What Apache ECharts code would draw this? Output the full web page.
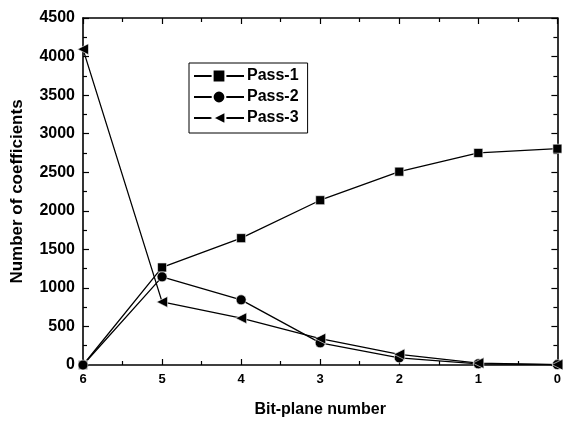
<!DOCTYPE html>
<html>
<head>
<meta charset="utf-8">
<script src="https://cdn.jsdelivr.net/npm/echarts@6/dist/echarts.min.js"></script>
<style>html,body{margin:0;padding:0;background:#fff}#c{width:564px;height:423px}</style>
</head>
<body>
<div id="c"></div>
<script>
var bitPlanes = [6, 5, 4, 3, 2, 1, 0];
var pass1 = [0, 1265, 1645, 2137, 2507, 2750, 2805];
var pass2 = [0, 1143, 845, 287, 93, 15, 5];
var pass3 = [4096, 818, 607, 342, 138, 25, 5];
var xTicks = [6, 5, 4, 3, 2, 1, 0];
var yTicks = [0, 500, 1000, 1500, 2000, 2500, 3000, 3500, 4000, 4500];

var FONT = '"Liberation Sans", Arial, sans-serif';
function pts(arr) { return bitPlanes.map(function (x, i) { return [x, arr[i]]; }); }

var axisLine = { show: true, onZero: false, lineStyle: { color: '#000', width: 1.6 } };
var tick = { show: true, inside: true, length: 6, lineStyle: { color: '#000', width: 1.2 } };
var minor = { show: true, splitNumber: 2, length: 4, lineStyle: { color: '#000', width: 1.2 } };

var chart = echarts.init(document.getElementById('c'), null, { renderer: 'canvas' });
chart.setOption({
  animation: false,
  backgroundColor: '#fff',
  grid: { left: 83, right: 4, top: 18, bottom: 53 },
  legend: {
    left: 189, top: 63,
    orient: 'vertical',
    padding: [5, 9, 7, 4],
    itemGap: 5,
    itemWidth: 50, itemHeight: 16,
    borderColor: '#000', borderWidth: 1,
    textStyle: { fontFamily: FONT, fontWeight: 'bold', fontSize: 16, color: '#000', padding: [0, 0, 0, -2] },
    data: ['Pass-1', 'Pass-2', 'Pass-3']
  },
  xAxis: [{
    type: 'value', min: 0, max: 6, interval: 1, inverse: true,
    name: 'Bit-plane number', nameLocation: 'middle', nameGap: 37,
    nameTextStyle: { fontFamily: FONT, fontWeight: 'bold', fontSize: 16, color: '#000' },
    axisLine: axisLine, axisTick: tick, minorTick: minor,
    axisLabel: { fontFamily: FONT, fontWeight: 'bold', fontSize: 13, color: '#000', margin: 8,
      formatter: function (v) { return xTicks.indexOf(v) >= 0 ? String(v) : ''; } },
    splitLine: { show: false }
  }, {
    type: 'value', min: 0, max: 6, interval: 1, inverse: true, position: 'top',
    axisLine: axisLine, axisTick: tick, minorTick: minor,
    axisLabel: { show: false }, splitLine: { show: false }
  }],
  yAxis: [{
    type: 'value', min: 0, max: 4500, interval: 500,
    name: 'Number of coefficients', nameLocation: 'middle', nameGap: 57,
    nameTextStyle: { fontFamily: FONT, fontWeight: 'bold', fontSize: 17, color: '#000' },
    axisLine: axisLine, axisTick: tick, minorTick: minor,
    axisLabel: { fontFamily: FONT, fontWeight: 'bold', fontSize: 16, color: '#000', margin: 8,
      formatter: function (v) { return yTicks.indexOf(v) >= 0 ? String(v) : ''; } },
    splitLine: { show: false }
  }, {
    type: 'value', min: 0, max: 4500, interval: 500, position: 'right',
    axisLine: axisLine, axisTick: tick, minorTick: minor,
    axisLabel: { show: false }, splitLine: { show: false }
  }],
  series: [{
    name: 'Pass-1', type: 'line', data: pts(pass1),
    symbol: 'rect', symbolSize: 9,
    lineStyle: { color: '#000', width: 1.3 },
    itemStyle: { color: '#000', borderColor: '#fff', borderWidth: 0.6 }
  }, {
    name: 'Pass-2', type: 'line', data: pts(pass2),
    symbol: 'circle', symbolSize: 10,
    lineStyle: { color: '#000', width: 1.3 },
    itemStyle: { color: '#000', borderColor: '#fff', borderWidth: 0.6 }
  }, {
    name: 'Pass-3', type: 'line', data: pts(pass3),
    symbol: 'triangle', symbolSize: 11, symbolRotate: 90,
    lineStyle: { color: '#000', width: 1.3 },
    itemStyle: { color: '#000', borderColor: '#fff', borderWidth: 0.6 }
  }]
});
</script>
</body>
</html>
